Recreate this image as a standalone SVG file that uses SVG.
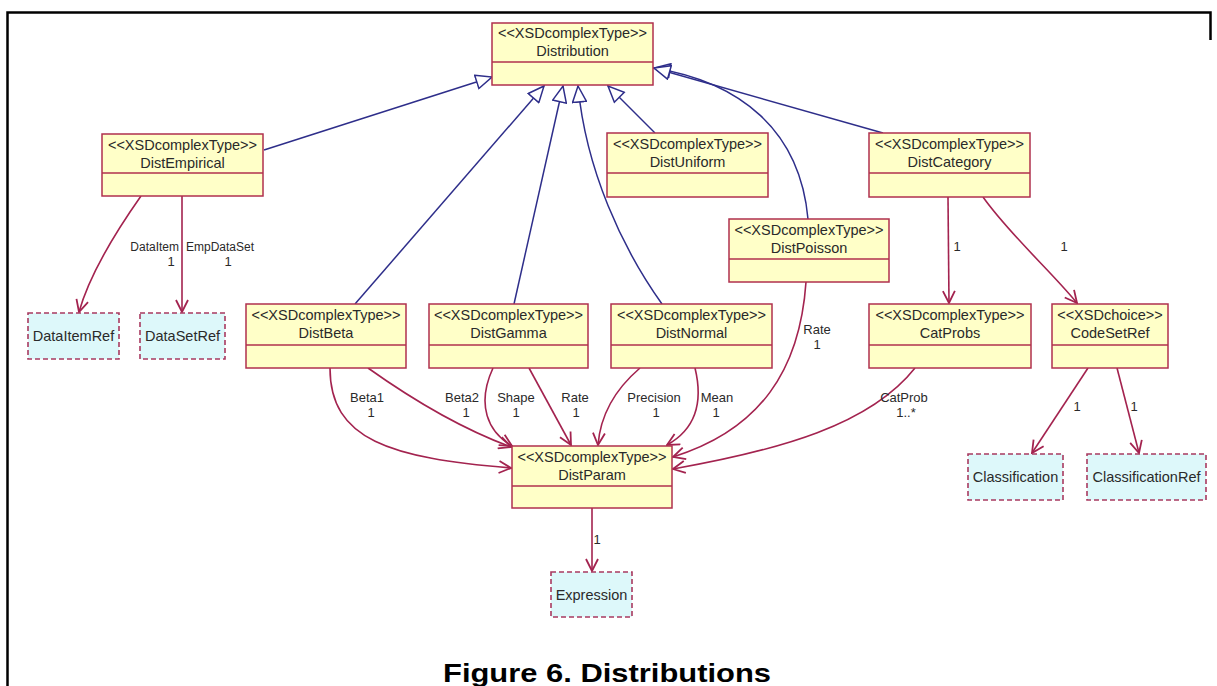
<svg xmlns="http://www.w3.org/2000/svg" width="1217" height="686" viewBox="0 0 1217 686">
  <style>
    .cls rect { fill: #ffffc8; stroke: #b0304e; stroke-width: 1.5; }
    .cls line { stroke: #b0304e; stroke-width: 1.5; }
    .ref rect { fill: #ddf8fa; stroke: #a83a60; stroke-width: 1.6; stroke-dasharray: 5 3; }
    text { font-family: "Liberation Sans", Arial, sans-serif; fill: #2a2a2a; }
    .st { font-size: 14.5px; text-anchor: middle; }
    .nm { font-size: 14.5px; text-anchor: middle; }
    .lbl { font-size: 13px; text-anchor: middle; }
    .gen path { fill: none; stroke: #2e2e8a; stroke-width: 1.5; marker-end: url(#tri); }
    .asc path { fill: none; stroke: #a3234f; stroke-width: 1.6; marker-end: url(#open); }
    .title { font-size: 26px; font-weight: bold; fill: #000; text-anchor: middle; }
  </style>
  <defs>
    <marker id="tri" viewBox="0 0 18 16" refX="17" refY="8" markerWidth="18" markerHeight="16" markerUnits="userSpaceOnUse" orient="auto">
      <path d="M1,1 L17,8 L1,15 Z" fill="#ffffff" stroke="#2e2e8a" stroke-width="1.5"/>
    </marker>
    <marker id="open" viewBox="0 0 14 14" refX="13" refY="7" markerWidth="14" markerHeight="14" markerUnits="userSpaceOnUse" orient="auto">
      <path d="M1,1 L13,7 L1,13" fill="none" stroke="#a3234f" stroke-width="1.8"/>
    </marker>
  </defs>

  <rect width="1217" height="686" fill="#ffffff"/>
  <!-- frame -->
  <path d="M7.5,686 V12.5 H1210.5 V40" fill="none" stroke="#000" stroke-width="2.5"/>

  <!-- generalizations -->
  <g id="generalizations" class="gen">
    <path d="M264,150 L492,77"/>
    <path d="M355,304 L544,86"/>
    <path d="M514,304 L563,86"/>
    <path d="M662,304 C622,248 586,170 578,86"/>
    <path d="M655,133 L608,86"/>
    <path d="M808,219 C800,130 740,82 654,68"/>
    <path d="M883,133 L654,68"/>
  </g>

  <!-- associations -->
  <g id="associations" class="asc">
    <path d="M141,196 C110,240 88,280 79,312"/>
    <path d="M182,196 L182,312"/>
    <path d="M330,368 C330,440 390,458 511,468"/>
    <path d="M368,368 C420,405 465,430 511,447"/>
    <path d="M493,368 C476,405 488,432 512,446"/>
    <path d="M529,368 L571,445"/>
    <path d="M640,368 C612,392 600,420 598,445"/>
    <path d="M695,368 C704,405 694,430 667,445"/>
    <path d="M806,282 C800,370 760,430 673,457"/>
    <path d="M915,368 C870,425 780,450 673,469"/>
    <path d="M592,508 L592,571"/>
    <path d="M948,197 L949,303"/>
    <path d="M983,197 C1010,235 1050,270 1077,303"/>
    <path d="M1088,368 L1032,453"/>
    <path d="M1117,368 L1139,453"/>
  </g>

  <!-- multiplicity and role labels -->
  <g id="labels">
    <text class="lbl" x="179" y="251" text-anchor="end" style="text-anchor:end;font-size:12px">DataItem</text>
    <text class="lbl" x="171" y="266">1</text>
    <text class="lbl" x="186" y="251" style="text-anchor:start;font-size:12px">EmpDataSet</text>
    <text class="lbl" x="228" y="266">1</text>
    <text class="lbl" x="367" y="402">Beta1</text>
    <text class="lbl" x="371" y="417">1</text>
    <text class="lbl" x="462" y="402">Beta2</text>
    <text class="lbl" x="466" y="417">1</text>
    <text class="lbl" x="516" y="402">Shape</text>
    <text class="lbl" x="516" y="417">1</text>
    <text class="lbl" x="575" y="402">Rate</text>
    <text class="lbl" x="576" y="417">1</text>
    <text class="lbl" x="654" y="402">Precision</text>
    <text class="lbl" x="656" y="417">1</text>
    <text class="lbl" x="717" y="402">Mean</text>
    <text class="lbl" x="716" y="417">1</text>
    <text class="lbl" x="817" y="334">Rate</text>
    <text class="lbl" x="817" y="349">1</text>
    <text class="lbl" x="904" y="402">CatProb</text>
    <text class="lbl" x="906" y="417">1..*</text>
    <text class="lbl" x="957" y="251">1</text>
    <text class="lbl" x="1064" y="251">1</text>
    <text class="lbl" x="1077" y="411">1</text>
    <text class="lbl" x="1134" y="411">1</text>
    <text class="lbl" x="597" y="544">1</text>
  </g>

  <!-- classes -->
  <g id="Distribution" class="cls">
    <rect x="492" y="23" width="161" height="62"/>
    <line x1="492" y1="62" x2="653" y2="62"/>
    <text class="st" x="572.5" y="38">&lt;&lt;XSDcomplexType&gt;&gt;</text>
    <text class="nm" x="572.5" y="56">Distribution</text>
  </g>
  <g id="DistEmpirical" class="cls">
    <rect x="102" y="134" width="161" height="62"/>
    <line x1="102" y1="173" x2="263" y2="173"/>
    <text class="st" x="182.5" y="150">&lt;&lt;XSDcomplexType&gt;&gt;</text>
    <text class="nm" x="182.5" y="168">DistEmpirical</text>
  </g>
  <g id="DistUniform" class="cls">
    <rect x="607" y="133" width="161" height="64"/>
    <line x1="607" y1="173" x2="768" y2="173"/>
    <text class="st" x="687.5" y="149">&lt;&lt;XSDcomplexType&gt;&gt;</text>
    <text class="nm" x="687.5" y="167">DistUniform</text>
  </g>
  <g id="DistCategory" class="cls">
    <rect x="869" y="133" width="161" height="64"/>
    <line x1="869" y1="173" x2="1030" y2="173"/>
    <text class="st" x="949.5" y="149">&lt;&lt;XSDcomplexType&gt;&gt;</text>
    <text class="nm" x="949.5" y="167">DistCategory</text>
  </g>
  <g id="DistPoisson" class="cls">
    <rect x="729" y="219" width="160" height="63"/>
    <line x1="729" y1="259" x2="889" y2="259"/>
    <text class="st" x="809" y="235">&lt;&lt;XSDcomplexType&gt;&gt;</text>
    <text class="nm" x="809" y="253">DistPoisson</text>
  </g>
  <g id="DistBeta" class="cls">
    <rect x="246" y="304" width="160" height="64"/>
    <line x1="246" y1="345" x2="406" y2="345"/>
    <text class="st" x="326" y="320">&lt;&lt;XSDcomplexType&gt;&gt;</text>
    <text class="nm" x="326" y="338">DistBeta</text>
  </g>
  <g id="DistGamma" class="cls">
    <rect x="429" y="304" width="159" height="64"/>
    <line x1="429" y1="345" x2="588" y2="345"/>
    <text class="st" x="508.5" y="320">&lt;&lt;XSDcomplexType&gt;&gt;</text>
    <text class="nm" x="508.5" y="338">DistGamma</text>
  </g>
  <g id="DistNormal" class="cls">
    <rect x="611" y="304" width="161" height="64"/>
    <line x1="611" y1="345" x2="772" y2="345"/>
    <text class="st" x="691.5" y="320">&lt;&lt;XSDcomplexType&gt;&gt;</text>
    <text class="nm" x="691.5" y="338">DistNormal</text>
  </g>
  <g id="CatProbs" class="cls">
    <rect x="869" y="304" width="162" height="64"/>
    <line x1="869" y1="345" x2="1031" y2="345"/>
    <text class="st" x="950" y="320">&lt;&lt;XSDcomplexType&gt;&gt;</text>
    <text class="nm" x="950" y="338">CatProbs</text>
  </g>
  <g id="CodeSetRef" class="cls">
    <rect x="1052" y="304" width="116" height="64"/>
    <line x1="1052" y1="345" x2="1168" y2="345"/>
    <text class="st" x="1110" y="320">&lt;&lt;XSDchoice&gt;&gt;</text>
    <text class="nm" x="1110" y="338">CodeSetRef</text>
  </g>
  <g id="DistParam" class="cls">
    <rect x="512" y="446" width="160" height="62"/>
    <line x1="512" y1="486" x2="672" y2="486"/>
    <text class="st" x="592" y="462">&lt;&lt;XSDcomplexType&gt;&gt;</text>
    <text class="nm" x="592" y="480">DistParam</text>
  </g>

  <!-- external references -->
  <g id="DataItemRef" class="ref">
    <rect x="28" y="313" width="91" height="46"/>
    <text class="nm" x="73.5" y="341">DataItemRef</text>
  </g>
  <g id="DataSetRef" class="ref">
    <rect x="140" y="313" width="85" height="46"/>
    <text class="nm" x="182.5" y="341">DataSetRef</text>
  </g>
  <g id="Classification" class="ref">
    <rect x="968" y="454" width="95" height="46"/>
    <text class="nm" x="1015.5" y="482">Classification</text>
  </g>
  <g id="ClassificationRef" class="ref">
    <rect x="1087" y="454" width="119" height="46"/>
    <text class="nm" x="1146.5" y="482">ClassificationRef</text>
  </g>
  <g id="Expression" class="ref">
    <rect x="551" y="572" width="81" height="45"/>
    <text class="nm" x="591.5" y="600">Expression</text>
  </g>

  <text class="title" x="607" y="682" textLength="328" lengthAdjust="spacingAndGlyphs">Figure 6. Distributions</text>
</svg>
